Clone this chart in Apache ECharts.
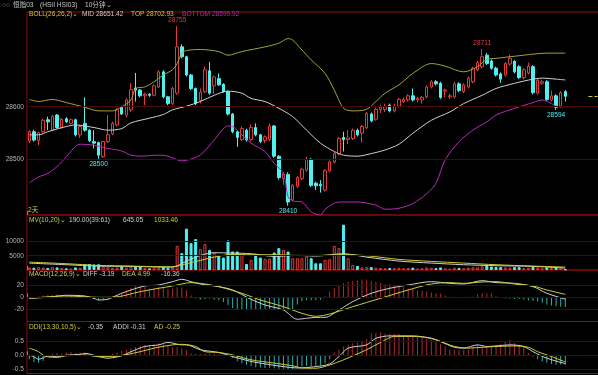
<!DOCTYPE html>
<html><head><meta charset="utf-8">
<script src="https://cdn.jsdelivr.net/npm/echarts@6/dist/echarts.min.js"></script>
<style>html,body{margin:0;padding:0;background:#000;}#c{width:598px;height:375px;}</style>
</head><body><div id="c"></div>
<script>
// ---------- data ----------
const opens = [28534,28552,28535,28552,28575,28555,28584,28560,28577,28568,
28575,28546,28568,28555,28533,28531,28504,28533,28548,28565,
28599,28584,28594,28636,28632,28621,28624,28622,28638,28667,
28619,28606,28626,28715,28696,28661,28635,28612,28629,28669,
28640,28654,28643,28629,28586,28552,28537,28555,28537,28560,
28546,28535,28537,28563,28505,28462,28470,28421,28447,28462,
28478,28499,28453,28451,28440,28477,28494,28510,28541,28537,
28539,28555,28549,28560,28586,28576,28594,28595,28603,28592,
28601,28610,28613,28621,28613,28613,28619,28638,28648,28645,
28630,28619,28619,28644,28629,28638,28648,28671,28677,28699,
28688,28674,28663,28661,28682,28687,28677,28656,28665,28677,
28626,28645,28648,28613,28621,28601,28629];
const closes = [28552,28536,28550,28574,28571,28582,28560,28576,28571,28575,
28546,28562,28555,28535,28530,28507,28533,28546,28568,28594,
28586,28613,28633,28632,28621,28624,28622,28640,28667,28619,
28606,28635,28715,28696,28661,28635,28606,28628,28671,28626,
28657,28642,28629,28586,28552,28541,28558,28536,28560,28546,
28533,28542,28563,28505,28464,28471,28417,28449,28464,28480,
28499,28449,28448,28448,28477,28494,28510,28539,28537,28540,
28555,28546,28562,28587,28573,28595,28599,28600,28592,28601,
28614,28614,28621,28613,28616,28618,28638,28648,28644,28618,
28632,28621,28644,28631,28642,28655,28674,28685,28696,28683,
28674,28661,28653,28683,28693,28667,28656,28671,28678,28627,
28651,28648,28614,28621,28599,28627,28620];
const lows = [28530,28533,28526,28550,28555,28553,28558,28558,28569,28566,
28543,28540,28552,28532,28520,28500,28502,28530,28545,28562,
28584,28580,28590,28610,28618,28603,28619,28620,28636,28616,
28603,28603,28623,28693,28658,28632,28603,28606,28626,28623,
28625,28640,28627,28583,28549,28523,28534,28533,28534,28543,
28530,28530,28534,28502,28460,28450,28410,28418,28444,28459,
28475,28446,28440,28435,28437,28474,28491,28507,28514,28528,
28536,28543,28531,28557,28570,28573,28588,28590,28589,28589,
28598,28607,28610,28610,28608,28606,28616,28635,28641,28615,
28618,28615,28616,28628,28626,28635,28645,28668,28674,28680,
28671,28658,28646,28658,28679,28664,28653,28653,28662,28624,
28623,28642,28611,28610,28594,28598,28610];
const highs = [28555,28556,28552,28577,28581,28584,28586,28578,28580,28577,
28577,28565,28618,28557,28555,28533,28535,28584,28571,28597,
28602,28616,28645,28665,28634,28627,28626,28643,28670,28670,
28621,28638,28755,28720,28698,28663,28637,28635,28677,28686,
28660,28664,28645,28631,28588,28554,28562,28558,28566,28568,
28548,28545,28568,28565,28507,28474,28474,28452,28467,28483,
28504,28501,28456,28459,28480,28497,28513,28542,28552,28555,
28558,28558,28565,28590,28589,28598,28604,28606,28606,28606,
28617,28618,28624,28635,28619,28621,28641,28651,28651,28648,
28635,28625,28647,28647,28645,28658,28677,28688,28711,28703,
28691,28677,28666,28686,28700,28690,28680,28674,28685,28680,
28654,28652,28651,28631,28624,28630,28632];
const volumes = [900,800,1000,900,700,1100,900,700,600,500,
900,800,2000,2100,1900,2000,1200,1000,800,900,
1300,900,1100,1200,1300,700,600,800,900,1000,
800,900,8470,5900,14470,9420,10830,7300,9070,7060,
6120,4940,4350,10340,6470,6470,5290,2120,3530,5650,
4350,3880,4000,6120,7650,7060,6470,4120,4120,4120,
4710,4120,2350,2350,3530,3760,8470,7650,15880,4120,
1760,1410,900,1000,1000,800,700,600,700,600,
800,600,700,800,500,600,900,800,700,900,
600,500,800,700,600,800,1000,900,1300,1600,
1200,1100,1000,900,800,1000,1000,700,800,1100,
900,600,900,700,1000,900,190];
// [candle index, value] samples
const bollTop = [[0,28614],[2,28610],[5,28614],[8,28608],[12,28599],[15,28592],[18,28592],[20,28600],[22,28613],[23,28635],[25,28638],[27,28648],[29,28661],[31,28671],[32,28683],[33,28703],[34,28708],[37,28710],[41,28706],[43,28699],[46,28706],[51,28715],[54,28722],[56,28731],[57,28728],[59,28709],[61,28690],[64,28664],[66,28632],[68,28597],[70,28592],[73,28595],[75,28610],[77,28626],[80,28642],[83,28664],[87,28683],[90,28678],[94,28667],[97,28677],[99,28691],[101,28693],[105,28697],[109,28701],[112,28703],[116,28702.93]];
const bollMid = [[0,28546],[2,28546],[4,28552],[8,28562],[10,28565],[14,28560],[17,28555],[20,28558],[22,28569],[26,28578],[29,28585],[31,28594],[34,28601],[37,28610],[40,28622],[43,28630],[46,28626],[48,28616],[51,28610],[54,28597],[57,28581],[60,28555],[63,28530],[66,28514],[68,28507],[71,28505],[74,28510],[77,28517],[80,28528],[83,28549],[87,28574],[91,28590],[94,28606],[98,28622],[101,28635],[105,28645],[109,28653],[111,28655],[114,28653],[116,28651.42]];
const bollBot = [[0,28454],[2,28465],[4,28472],[6,28485],[8,28504],[10,28524],[11,28528],[14,28526],[17,28520],[20,28515],[22,28507],[24,28505],[28,28507],[30,28505],[33,28496],[34,28497],[37,28507],[40,28536],[43,28563],[44,28562],[46,28546],[48,28530],[51,28514],[53,28491],[55,28472],[56,28427],[57,28419],[59,28417],[61,28398],[63,28392],[64,28403],[67,28417],[71,28417],[75,28411],[77,28403],[80,28405],[83,28414],[86,28433],[88,28453],[90,28498],[93,28533],[96,28555],[99,28571],[101,28584],[105,28597],[109,28608],[111,28613],[113,28606],[114,28601],[116,28599.92]];
const volMa10 = [[0,2400],[8,1850],[15,1370],[22,1260],[30,1020],[31,1020],[34,3100],[37,5100],[40,6050],[44,5920],[48,5700],[53,4760],[58,5100],[62,4870],[68,5700],[73,4520],[80,3120],[87,2420],[94,1850],[101,1500],[109,1260],[116,645.05]];
const volMa20 = [[0,2750],[8,2200],[15,1600],[22,1370],[30,1130],[31,1130],[34,2200],[37,3360],[40,4520],[44,5460],[48,5350],[53,5350],[58,5100],[62,5100],[68,5350],[73,5000],[80,3710],[87,3010],[94,2420],[101,1850],[109,1370],[116,1033.46]];
const macdDiff = [[0,-1.7],[4,0],[8,3.4],[12,2.3],[14,-1.7],[15,-4.5],[17,-3.4],[18,0],[20,6.8],[22,12.4],[25,19.1],[28,20.8],[31,26.4],[33,30.4],[35,26.4],[37,22.5],[41,18],[44,12.4],[48,-3.4],[51,-12.9],[55,-21.4],[58,-37],[60,-35.4],[62,-33.8],[64,-33.8],[67,-21.4],[70,-7.3],[74,6.8],[78,15.2],[82,20.8],[87,26.4],[91,23.6],[94,22.5],[98,28.1],[101,24.8],[105,23.6],[109,18],[112,6.8],[116,-3.19]];
const macdDea = [[0,-1.7],[8,2.3],[15,0],[18,0],[24,9.6],[28,15.2],[31,19.1],[35,24.8],[38,22.5],[41,18],[46,6.8],[50,-4.5],[55,-15.8],[59,-27],[62,-32],[65,-28.1],[70,-15.8],[76,-1.7],[82,12.4],[87,22.5],[91,24.8],[94,23.6],[98,25.9],[101,26.4],[105,22.5],[109,19.1],[112,12.4],[116,4.99]];
const macdHist = [-1,-1,2,3,4,4,5,4,4,3,
3,1,1,-1,-3,-5,-4,-2,1,3,
8,12,16,19,18,17,15,16,18,16,
14,15,17,17,12,3,-2,-4,-3,-2,
-4,-5,-8,-13,-18,-20,-21,-20,-21,-21,
-20,-19,-20,-21,-20,-21,-22,-21,-12,-6,
-5,-5,-5,-4,2,10,16,21,24,26,
28,29,30,30,28,26,24,22,22,20,
19,17,15,14,12,11,10,8,7,6,
3,1,0.5,-0.5,0.5,1,1,5,7,7,
6,2,-1,-2,-2,-3,-3,-3.5,-5,-6,
-7,-9,-12,-14,-15,-16,-16.36];
const ddiAddi = [[0,0],[1,-0.06],[2,-0.15],[3,-0.1],[4,-0.03],[6,-0.06],[8,0],[11,0.03],[12,0.07],[15,-0.05],[17,-0.11],[20,-0.02],[22,0.13],[25,0.32],[28,0.38],[30,0.47],[33,0.38],[34,0.38],[37,0.2],[41,0.1],[44,-0.05],[48,-0.23],[51,-0.32],[55,-0.42],[58,-0.47],[62,-0.42],[65,-0.32],[67,-0.05],[69,0.26],[73,0.38],[75,0.62],[78,0.71],[80,0.71],[83,0.71],[87,0.62],[89,0.5],[92,0.29],[94,0.26],[97,0.38],[99,0.32],[101,0.34],[104,0.38],[107,0.32],[109,0.13],[112,-0.11],[116,-0.31]];
const ddiAd = [[0,0.26],[2,0.13],[3,0],[4,-0.06],[6,-0.08],[8,-0.02],[11,0],[12,0.01],[15,-0.05],[18,-0.05],[24,0.13],[27,0.26],[31,0.38],[33,0.4],[36,0.32],[38,0.13],[41,0.1],[44,0.01],[48,-0.17],[53,-0.29],[57,-0.39],[59,-0.47],[62,-0.48],[65,-0.36],[68,-0.17],[73,0.2],[76,0.47],[79,0.69],[83,0.69],[87,0.62],[90,0.44],[92,0.32],[95,0.26],[98,0.29],[101,0.32],[105,0.34],[108,0.29],[110,0.13],[113,-0.05],[116,-0.25]];
const ddiHist = [-0.15,-0.25,-0.28,-0.2,-0.05,0.05,0.08,0.06,0.1,0.12,
0.08,0.1,0.07,0.03,-0.05,-0.08,-0.06,-0.03,0.05,0.1,
0.15,0.2,0.26,0.3,0.34,0.38,0.36,0.4,0.44,0.4,
0.35,0.29,0.3,0.26,0.18,0.07,0.05,0.04,0.06,0.05,
0.04,0.03,0.02,0.01,-0.1,-0.22,-0.3,-0.35,-0.4,-0.44,
-0.45,-0.47,-0.46,-0.48,-0.5,-0.5,-0.52,-0.52,-0.45,-0.42,
-0.4,-0.42,-0.4,-0.38,-0.3,-0.15,0.1,0.2,0.32,0.38,
0.44,0.47,0.5,0.6,0.81,0.82,0.83,0.8,0.79,0.78,
0.78,0.74,0.71,0.68,0.66,0.64,0.62,0.56,0.5,0.4,
0.32,0.22,0.2,0.18,0.2,0.2,0.3,0.38,0.35,0.32,
0.3,0.32,0.4,0.5,0.56,0.45,0.38,0.32,0.07,-0.05,
-0.15,-0.22,-0.28,-0.32,-0.35,-0.34,-0.35];
const priceTicks = [28500, 28600];
const volTicks = [5000, 10000];
const macdTicks = [-20, 0, 20];
const ddiTicks = [-0.5, 0, 0.5];
const slotCount = 124;            // 117 bars + empty room on the right
const daySplitIndex = 70;         // day boundary tick sits before this bar
const extremeMarks = [{i:32,kind:'high'},{i:98,kind:'high'},{i:15,kind:'low'},{i:56,kind:'low'},{i:114,kind:'low'}];
const headerVol = '190.00(39:61)';

// ---------- styling ----------
const FONT = '"Liberation Sans","Noto Sans CJK SC",sans-serif';
const FS = 6.6;
const UP='#e03c3c', DOWN='#4ef0f0', YEL='#cdcd3a', WHT='#d0d0d0', MAG='#b62cb6', OLIVE='#a3a334';
const HUP='#b02c2c', HDOWN='#2fb0b0';
const FRAME='#900a0a', GRIDC='#4c0606', AXT='#b4b4b4', SPLIT='#8a8a8a';

const cats = Array.from({length: slotCount}, (_, i) => String(i));
const candles = opens.map((o, i) => [o, closes[i], lows[i], highs[i]]);
const isUp = i => closes[i] >= opens[i];
const last = closes.length - 1;

const gridRects = [
  {top:12, height:203}, {top:215, height:55}, {top:270, height:51.5}, {top:321.5, height:52}
];
const grid = gridRects.map(r => ({left:27, width:573, top:r.top, height:r.height, show:true,
  borderColor:FRAME, borderWidth:1, backgroundColor:'rgba(0,0,0,0)', containLabel:false, outerBoundsMode:'none'}));
const xAxis = gridRects.map((r, i) => ({type:'category', gridIndex:i, data:cats, boundaryGap:true, show:true,
  axisLine:{show:false}, axisLabel:{show:false}, splitLine:{show:false},
  axisTick:{show:true, inside:true, length:4, alignWithLabel:false, interval:(idx) => idx === daySplitIndex,
    lineStyle:{color:SPLIT, width:1}}}));
function yax(i, min, max, ticks, fmt){
  return {type:'value', gridIndex:i, min, max, scale:true,
    splitLine:{show:false}, axisLine:{show:false}, axisTick:{show:false},
    axisLabel:{customValues:ticks, color:AXT, fontSize:FS, fontFamily:FONT, margin:3, formatter: fmt || (v => String(v))}};
}
const yAxis = [
  yax(0, 28392, 28782, priceTicks),
  yax(1, 0, 19250, volTicks),
  yax(2, -40.8, 46.1, macdTicks),
  yax(3, -0.673, 1.239, ddiTicks, v => v.toFixed(1))
];
const hLines = ticks => ticks.map(v => ({yAxis:v, lineStyle:{color:GRIDC, width:1, type:'solid'}}));
const ml = data => ({silent:true, symbol:['none','none'], label:{show:false}, animation:false, data});
const line = (xi, data, color) => ({type:'line', xAxisIndex:xi, yAxisIndex:xi, data, showSymbol:false, symbol:'none',
  connectNulls:true, smooth:0.3, lineStyle:{color, width:1}, silent:true, z:3});

const series = [
  {type:'candlestick', xAxisIndex:0, yAxisIndex:0, data:candles, barWidth:3,
   itemStyle:{color:'rgba(0,0,0,0)', color0:DOWN, borderColor:UP, borderColor0:DOWN, borderColorDoji:UP, borderWidth:1},
   markLine: ml(hLines(priceTicks).concat([[{coord:[121, closes[last]], lineStyle:{color:YEL, width:1}}, {coord:[123, closes[last]]}]])),
   markPoint:{symbol:'circle', symbolSize:1, itemStyle:{color:'rgba(0,0,0,0)'}, animation:false,
     data: extremeMarks.map(m => {
       const v = m.kind === 'high' ? highs[m.i] : lows[m.i];
       return {coord:[m.i, v], value:v, label:{show:true, position: m.kind === 'high' ? 'top' : 'bottom', distance:2,
         color: m.kind === 'high' ? UP : DOWN, fontSize:FS, fontFamily:FONT, formatter: String(v)}};
     })}},
  line(0, bollTop, OLIVE), line(0, bollMid, WHT), line(0, bollBot, MAG),
  {type:'bar', xAxisIndex:1, yAxisIndex:1, barWidth:3, silent:true,
   data: volumes.map((v, i) => ({value:v, itemStyle:{color: isUp(i) ? 'rgba(0,0,0,0)' : DOWN, borderColor: isUp(i) ? UP : DOWN, borderWidth:1}})),
   markLine: ml(hLines(volTicks))},
  line(1, volMa10, WHT), line(1, volMa20, YEL),
  {type:'bar', xAxisIndex:2, yAxisIndex:2, barWidth:1, silent:true,
   data: macdHist.map(v => ({value:v, itemStyle:{color: v >= 0 ? HUP : HDOWN}})),
   markLine: ml(hLines(macdTicks))},
  line(2, macdDiff, WHT), line(2, macdDea, YEL),
  {type:'bar', xAxisIndex:3, yAxisIndex:3, barWidth:1, silent:true,
   data: ddiHist.map(v => ({value:v, itemStyle:{color: v >= 0 ? HUP : HDOWN}})),
   markLine: ml(hLines(ddiTicks))},
  line(3, ddiAddi, WHT), line(3, ddiAd, YEL)
];

const lastOf = arr => arr[arr.length - 1][1];
const txt = (x, y, text, fill) => ({type:'text', x, y, silent:true, z:10,
  style:{text, fill, fontSize:FS, fontFamily:FONT, verticalAlign:'middle', textVerticalAlign:'middle'}});
const graphic = [
  txt(2, 5, '○○', '#9a9a9a'), txt(13, 5, '恒指03', '#c8c8c8'), txt(40, 5, '(HSII HSI03)', '#c8c8c8'), txt(85, 5, '10分钟⌄', '#c8c8c8'),
  txt(29, 14, 'BOLL(26,26,2)⌄', YEL), txt(82, 14, 'MID ' + lastOf(bollMid).toFixed(2), WHT),
  txt(131, 14, 'TOP ' + lastOf(bollTop).toFixed(2), YEL), txt(182, 14, 'BOTTOM ' + lastOf(bollBot).toFixed(2), MAG),
  txt(28, 210, '2天', YEL),
  txt(29, 220, 'MV(10,20)⌄', YEL), txt(69, 220, headerVol, WHT), txt(123, 220, lastOf(volMa10).toFixed(2), WHT), txt(154, 220, lastOf(volMa20).toFixed(2), YEL),
  txt(29, 274, 'MACD(12,26,9)⌄', YEL), txt(83, 274, 'DIFF ' + lastOf(macdDiff).toFixed(2), WHT), txt(122, 274, 'DEA ' + lastOf(macdDea).toFixed(2), YEL), txt(161, 274, macdHist[last].toFixed(2), WHT),
  txt(29, 327, 'DDI(13,30,10,5)⌄', YEL), txt(88, 327, ddiHist[last].toFixed(2), WHT), txt(113, 327, 'ADDI ' + lastOf(ddiAddi).toFixed(2), WHT), txt(154, 327, 'AD ' + lastOf(ddiAd).toFixed(2), YEL)
];

const chart = echarts.init(document.getElementById('c'), null, {renderer:'canvas'});
chart.setOption({backgroundColor:'#000', animation:false, grid, xAxis, yAxis, series, graphic, tooltip:{show:false}});
</script></body></html>
